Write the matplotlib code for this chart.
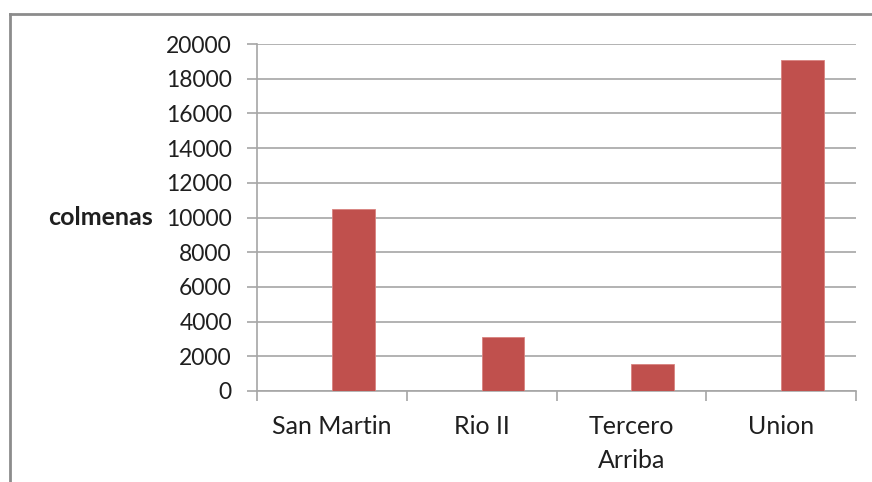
import matplotlib.pyplot as plt
from matplotlib.lines import Line2D

# colmenas por departamento
departamentos = ["San Martin", "Rio II", "Tercero\nArriba", "Union"]
colmenas = [10500, 3100, 1550, 19050]

rojo = "#C0504D"
gris = "#A6A6A6"
texto = "#1F1F1F"

plt.rcParams["font.family"] = ["Lato", "DejaVu Sans"]

fig = plt.figure(figsize=(8.72, 4.82), dpi=100)
ax = fig.add_axes([0.2947, 0.1888, 0.687, 0.7199])

# marco exterior del grafico (solo se ve arriba y a la izquierda)
fig.add_artist(Line2D([10 / 872, 10 / 872], [0, 1 - 14 / 482], transform=fig.transFigure,
                      color="#8C8C8C", lw=2))
fig.add_artist(Line2D([10 / 872, 1], [1 - 14 / 482, 1 - 14 / 482], transform=fig.transFigure,
                      color="#8C8C8C", lw=2))

x = list(range(len(departamentos)))
ancho = 1 / 3.5
ax.bar(x, colmenas, width=ancho, align="edge", color=rojo, edgecolor="#D9837F", lw=0.6, zorder=3)

ax.set_xlim(-0.5, len(departamentos) - 0.5)
ax.set_ylim(0, 20000)
ax.set_yticks(range(0, 20001, 2000))
ax.yaxis.grid(True, color=gris, lw=1.2, zorder=0)

# ticks de categoria en los limites, etiquetas al centro
ax.set_xticks([i - 0.5 for i in range(len(departamentos) + 1)])
ax.set_xticklabels([])
ax.set_xticks(x, minor=True)
ax.set_xticklabels(departamentos, minor=True, fontsize=18, color=texto, linespacing=1.6)
ax.tick_params(axis="x", which="major", length=7, color=gris, width=1.2)
ax.tick_params(axis="x", which="minor", length=0, pad=17)
ax.tick_params(axis="y", length=7, color=gris, width=1.2, pad=11, labelsize=16.5, labelcolor=texto)

for lado in ["top", "right"]:
    ax.spines[lado].set_visible(False)
for lado in ["left", "bottom"]:
    ax.spines[lado].set_color(gris)
    ax.spines[lado].set_linewidth(1.2)

ax.set_ylabel("colmenas", rotation=0, fontsize=18, fontweight="bold", color=texto,
              ha="right", va="center")
ax.yaxis.set_label_coords(-0.1736, 0.5)

fig.savefig("out.png", dpi=100)
